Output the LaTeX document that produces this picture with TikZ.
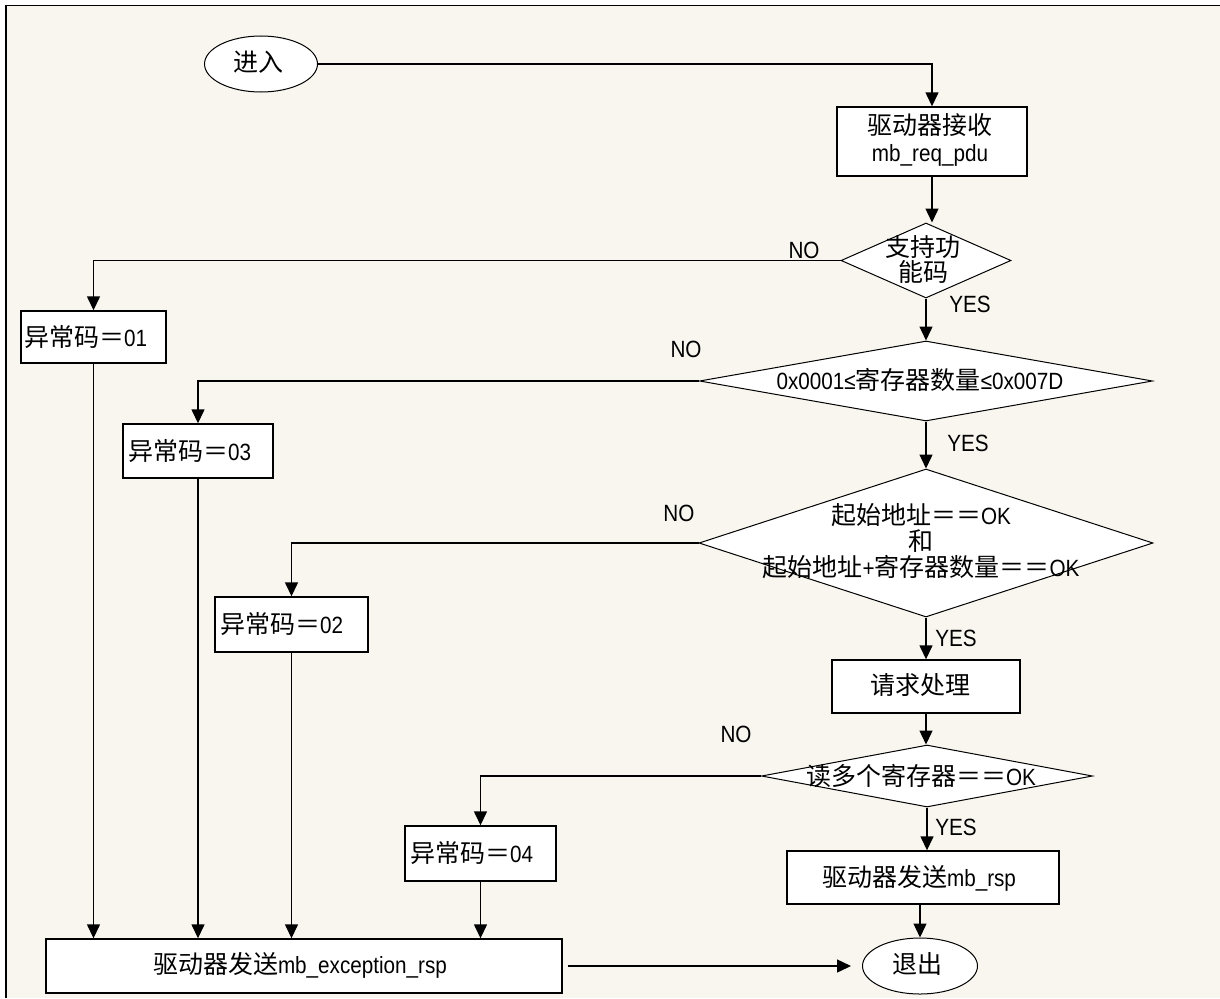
\documentclass[tikz,border=0pt]{standalone}
\usepackage{fontspec}
\setmainfont{Liberation Sans}[FakeStretch=0.88]
\newfontfamily\cjk{Noto Sans CJK SC}
\usetikzlibrary{shapes.geometric,arrows.meta}
\newcommand\zhs[1]{{\cjk\fontsize{25}{30}\selectfont #1}}
\definecolor{bgc}{RGB}{249,246,239}
\begin{document}
\begin{tikzpicture}[x=1pt,y=-1pt,
  every node/.style={font=\fontsize{23.5}{27}\selectfont, inner sep=0pt},
  arr/.style={line width=1.4pt, -{Triangle[width=13pt,length=14pt]}},
  box/.style={draw, line width=1.4pt, fill=white, rectangle},
  dia/.style={draw, line width=1pt, fill=white, diamond},
  term/.style={draw, line width=1pt, fill=white, ellipse},
  txt/.style={align=center},
  lbl/.style={font=\fontsize{23.5}{25}\selectfont}]
\useasboundingbox (0,0) rectangle (1220,998);
\fill[white] (0,0) rectangle (1220,998);
\fill[bgc] (6,5.5) rectangle (1220,998);
\draw[line width=1.6pt] (6,998) -- (6,5.5) -- (1220,5.5);

% terminals
\node[term, minimum width=113pt, minimum height=56pt] (start) at (261,64) {};
\node[txt] (startT) at (258,62) {\zhs{进入}};
\node[term, minimum width=115pt, minimum height=56pt] (exit) at (920,966) {};
\node[txt] (exitT) at (917,964) {\zhs{退出}};

% process boxes
\node[box, minimum width=190pt, minimum height=69pt] (recv) at (932,141.5) {};
\node[txt] (recvT) at (930,140) {\zhs{驱动器接收}\\mb\_req\_pdu};
\node[box, minimum width=188pt, minimum height=53pt] (proc) at (926,686.5) {};
\node[txt] (procT) at (920,685) {\zhs{请求处理}};
\node[box, minimum width=272pt, minimum height=53pt] (rsp) at (923,877.5) {};
\node[txt] (rspT) at (919,878) {\zhs{驱动器发送}mb\_rsp};
\node[box, minimum width=516pt, minimum height=54pt] (exc) at (304,966) {};
\node[txt] (excT) at (300,965) {\zhs{驱动器发送}mb\_exception\_rsp};

% exception boxes
\node[box, minimum width=145pt, minimum height=52pt] (e01) at (93.5,337) {};
\node[anchor=west] (e01T) at (24,337) {\zhs{异常码＝}01};
\node[box, minimum width=150pt, minimum height=54pt] (e03) at (198,451) {};
\node[anchor=west] (e03T) at (128,451) {\zhs{异常码＝}03};
\node[box, minimum width=153pt, minimum height=55pt] (e02) at (291.5,624.5) {};
\node[anchor=west] (e02T) at (220,624) {\zhs{异常码＝}02};
\node[box, minimum width=151pt, minimum height=55pt] (e04) at (480.5,853.5) {};
\node[anchor=west] (e04T) at (410,853) {\zhs{异常码＝}04};

% decisions
\node[dia, minimum width=170pt, minimum height=75pt] (d1) at (926,260.5) {};
\node[txt, font=\fontsize{23.5}{25}\selectfont] (d1T) at (923,259) {\zhs{支持功}\\\zhs{能码}};
\node[dia, minimum width=453pt, minimum height=80pt] (d2) at (926,381) {};
\node[txt] (d2T) at (920,380) {0x0001≤\zhs{寄存器数量}≤0x007D};
\node[dia, minimum width=454pt, minimum height=148pt] (d3) at (926,543) {};
\node[txt, font=\fontsize{23.5}{26}\selectfont] (d3T) at (921,541) {\zhs{起始地址＝＝}OK\\\zhs{和}\\\zhs{起始地址}+\zhs{寄存器数量＝＝}OK};
\node[dia, minimum width=331pt, minimum height=62pt] (d4) at (927,776) {};
\node[txt] (d4T) at (921,776) {\zhs{读多个寄存器＝＝}OK};

% labels
\node[lbl] (no1) at (804,250) {NO};
\node[lbl] (yes1) at (970,304) {YES};
\node[lbl] (no2) at (686,349) {NO};
\node[lbl] (yes2) at (968,443) {YES};
\node[lbl] (no3) at (679,513) {NO};
\node[lbl] (yes3) at (956,638) {YES};
\node[lbl] (no4) at (736,734) {NO};
\node[lbl] (yes4) at (956,827) {YES};

% connectors
\draw[arr] (start.east) -| (recv.north);
\draw[arr] (recv.south) -- (recv.south |- d1.north);
\draw[arr] (d1.west) -| (e01.north);
\draw[arr] (d1.south) -- (d2.north);
\draw[arr] (d2.west) -| (e03.north);
\draw[arr] (d2.south) -- (d3.north);
\draw[arr] (d3.west) -| (e02.north);
\draw[arr] (d3.south) -- (proc.north);
\draw[arr] (proc.south) -- (proc.south |- d4.north);
\draw[arr] (d4.west) -| (e04.north);
\draw[arr] (d4.south) -- (d4.south |- rsp.north);
\draw[arr] (exit.north |- rsp.south) -- (exit.north);
\draw[arr] (e01.south) -- (e01.south |- exc.north);
\draw[arr] (e03.south) -- (e03.south |- exc.north);
\draw[arr] (e02.south) -- (e02.south |- exc.north);
\draw[arr] (e04.south) -- (e04.south |- exc.north);
\draw[arr, shorten <=5pt, shorten >=11pt] (exc.east) -- (exit.west);
\end{tikzpicture}
\end{document}
